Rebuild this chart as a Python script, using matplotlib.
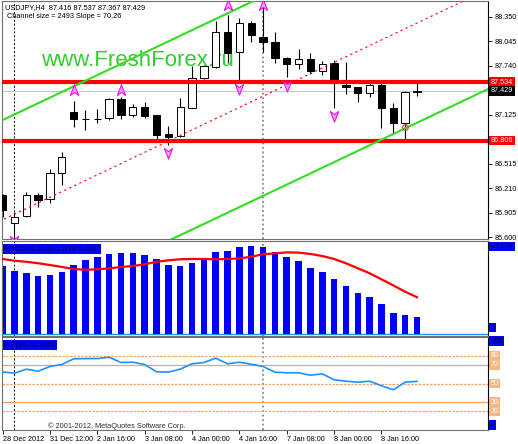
import matplotlib
matplotlib.use('Agg')
import numpy as np
from matplotlib import pyplot as plt
from matplotlib import transforms
from matplotlib.path import Path

plt.rcParams['font.family'] = ['Liberation Sans', 'DejaVu Sans']

# USDJPY H4 candles
opens = [86.125, 85.775, 85.86, 86.125, 86.075, 86.40, 87.16, 87.075, 87.075, 87.09,
         87.325, 87.125, 87.225, 87.125, 86.89, 86.86, 87.21, 87.59, 87.72, 88.16,
         87.91, 88.275, 88.10, 88.04, 87.84, 87.76, 87.825, 87.675, 87.775, 87.50,
         87.475, 87.40, 87.50, 87.21, 87.025, 87.416]
highs = [86.14, 85.91, 86.16, 86.15, 86.45, 86.66, 87.30, 87.19, 87.20, 87.34,
         87.35, 87.26, 87.29, 87.13, 86.99, 87.34, 87.74, 87.75, 88.30, 88.375,
         88.34, 88.30, 88.475, 88.16, 87.85, 87.95, 87.90, 87.80, 87.81, 87.79,
         87.48, 87.55, 87.525, 87.275, 87.425, 87.537]
lows = [85.85, 85.58, 85.85, 85.975, 86.025, 86.25, 86.975, 86.94, 87.025, 87.06,
        87.075, 87.10, 87.09, 86.81, 86.75, 86.85, 87.21, 87.58, 87.71, 87.775,
        87.56, 88.04, 87.91, 87.775, 87.60, 87.70, 87.64, 87.63, 87.21, 87.39,
        87.29, 87.35, 86.96, 86.90, 86.825, 87.367]
closes = [85.94, 85.85, 86.125, 86.06, 86.40, 86.60, 87.075, 87.08, 87.08, 87.32,
          87.125, 87.225, 87.11, 86.875, 86.85, 87.225, 87.59, 87.74, 88.16, 87.90,
          88.275, 88.125, 88.04, 87.84, 87.76, 87.825, 87.675, 87.76, 87.54, 87.475,
          87.40, 87.50, 87.21, 87.025, 87.41, 87.429]

macd_hist = [0.461, 0.427, 0.414, 0.393, 0.400, 0.421, 0.468, 0.502, 0.522, 0.543,
             0.550, 0.550, 0.536, 0.509, 0.468, 0.461, 0.482, 0.509, 0.556, 0.563,
             0.590, 0.597, 0.590, 0.556, 0.522, 0.495, 0.448, 0.421, 0.373, 0.326,
             0.278, 0.251, 0.204, 0.142, 0.129, 0.1178]
macd_signal = [0.509, 0.497, 0.490, 0.480, 0.468, 0.455, 0.441, 0.436, 0.439, 0.445,
               0.455, 0.461, 0.473, 0.490, 0.500, 0.507, 0.509, 0.509, 0.507, 0.509,
               0.513, 0.524, 0.541, 0.547, 0.554, 0.552, 0.543, 0.529, 0.509, 0.480,
               0.446, 0.412, 0.371, 0.330, 0.287, 0.2497]
rsi = [62.4, 61.1, 65.4, 63.2, 68.3, 70.4, 76.5, 76.8, 76.8, 78.2,
       72.6, 72.9, 70.4, 62.6, 62.2, 65.4, 71.2, 72.6, 77.2, 71.2,
       72.9, 70.7, 68.3, 62.2, 61.5, 61.5, 58.9, 60.4, 54.0, 52.5,
       51.4, 52.5, 47.6, 43.3, 51.4, 52.3]

time_ticks = [0, 4, 8, 12, 16, 20, 24, 28, 32]
time_labels = ['28 Dec 2012', '31 Dec 12:00', '2 Jan 16:00', '3 Jan 08:00', '4 Jan 00:00',
               '4 Jan 16:00', '7 Jan 08:00', '8 Jan 00:00', '8 Jan 16:00']
price_ticks = [88.350, 88.045, 87.740, 87.125, 86.515, 86.210, 85.905, 85.600]
levels = [87.534, 86.806]
last_price = 87.429
channel_mid0 = 85.815   # middle line at bar 0
channel_slope = 0.07026
channel_size = 2.493
up_bars = [6, 10, 19, 22]
up_prices = [87.44, 87.44, 88.50, 88.50]
dn_bars = [1, 14, 20, 24, 28]
dn_prices = [85.55, 86.65, 87.45, 87.49, 87.11]
rsi_levels = [80, 70, 50, 30, 20]
rsi_styles = ['dashed', 'solid', 'dashed', 'solid', 'dashed']

W, H = 518, 444
fig = plt.figure(figsize=(W / 100, H / 100), dpi=100)


def box(l, t, r, b):
    return [l / W, 1 - b / H, (r - l) / W, (b - t) / H]


ax1 = fig.add_axes(box(2, 1, 488, 239))
ax2 = fig.add_axes(box(2, 241, 488, 336))
ax3 = fig.add_axes(box(2, 337, 488, 430))
xlo, xhi = -0.05, 41.0
for ax in (ax1, ax2, ax3):
    ax.set_xlim(xlo, xhi)
    for s in ax.spines.values():
        s.set_color('#707070')
        s.set_linewidth(0.8)
    ax.spines['right'].set_color('black')
    ax.yaxis.tick_right()
    ax.tick_params(axis='y', length=3, width=0.6, pad=1.5, labelsize=5.2, colors='black')
    ax.axvline(1, color='black', lw=0.7, ls=(0, (2, 2)), zorder=1)
    ax.axvline(22, color='#888888', lw=1.3, ls=(0, (1, 1.5)), zorder=1)

idx = np.arange(len(opens))
o = np.array(opens); c = np.array(closes)

# main price panel
ax1.set_ylim(85.575, 88.55)
ax1.set_yticks(price_ticks)
ax1.set_yticklabels(['%.3f' % p for p in price_ticks])
ax1.set_xticks([])
ax1.vlines(idx, lows, highs, color='black', lw=0.8, zorder=3)
bottoms = np.minimum(o, c)
heights = np.maximum(np.abs(c - o), 0.003)
faces = ['white' if cc >= oo else 'black' for oo, cc in zip(o, c)]
ax1.bar(idx, heights, 0.62, bottoms, color=faces, edgecolor='black', lw=0.7, zorder=4)

ax1.axhline(last_price, color='#C8C8C8', lw=0.8, zorder=1)
for lv in levels:
    ax1.axhline(lv, color='#FF0000', lw=3, zorder=5)

xs = np.array([xlo - 1, xhi + 1])
mid = channel_mid0 + channel_slope * xs
ax1.plot(xs, mid, color='#FF0000', lw=0.8, ls=(0, (2, 3)), zorder=5)
ax1.plot(xs, mid + channel_size / 2, color='#33DD22', lw=1.5, zorder=5)
ax1.plot(xs, mid - channel_size / 2, color='#33DD22', lw=1.5, zorder=5)

up = Path([(0, 1), (0.75, -0.9), (0, -0.35), (-0.75, -0.9), (0, 1)],
          [Path.MOVETO, Path.LINETO, Path.LINETO, Path.LINETO, Path.CLOSEPOLY])
dn = Path([(0, -1), (0.75, 0.9), (0, 0.35), (-0.75, 0.9), (0, -1)],
          [Path.MOVETO, Path.LINETO, Path.LINETO, Path.LINETO, Path.CLOSEPOLY])
ax1.plot(up_bars, up_prices, ls='none', marker=up, ms=8, mfc='#FF99FF', mec='#EE00EE', mew=0.7, zorder=6)
ax1.plot(dn_bars, dn_prices, ls='none', marker=dn, ms=8, mfc='#FF99FF', mec='#EE00EE', mew=0.7, zorder=6)
ax1.plot([34], [86.975], ls='none', marker='o', ms=4, mfc='none', mec='#FF3030', mew=0.8, zorder=6)

ax1.text(0.279, 0.752, 'www.FreshForex.ru', transform=ax1.transAxes, ha='center', va='center',
         fontsize=16, color='#33CC33', zorder=2)
ax1.text(3 / 486, 1 - 7 / 238, 'USDJPY,H4  87.416 87.537 87.367 87.429', transform=ax1.transAxes,
         ha='left', va='center', fontsize=5.3, color='black', zorder=7)
ax1.text(5 / 486, 1 - 15 / 238, 'Channel size = 2493 Slope = 70.26', transform=ax1.transAxes,
         ha='left', va='center', fontsize=5.3, color='black', zorder=7)

tr1 = transforms.blended_transform_factory(ax1.transAxes, ax1.transData)
for lv, fc in [(levels[0], '#FF0000'), (last_price, 'black'), (levels[1], '#FF0000')]:
    ax1.text(1.006, lv, '%.3f' % lv, transform=tr1, ha='left', va='center', fontsize=5.2,
             color='white', bbox=dict(boxstyle='square,pad=0.2', fc=fc, ec='none'), clip_on=False)

# MACD panel
ax2.set_ylim(-0.0136, 0.631)
ax2.set_yticks([])
ax2.set_xticks([])
ax2.axhline(0, color='#1E90FF', lw=1.0, zorder=1)
ax2.bar(idx, macd_hist, 0.55, color='#0000FF', zorder=2)
ax2.plot(np.concatenate([[-0.3], idx]), [macd_signal[0]] + macd_signal, color='#FF0000', lw=1.6, zorder=3)
ax2.text(2 / 486, 1 - 8 / 95, 'MACD(12,26,9) 0.1178 0.2497', transform=ax2.transAxes, ha='left',
         va='center', fontsize=5, color='#000050',
         bbox=dict(boxstyle='square,pad=0.2', fc='#0000FF', ec='none'))
tr2 = transforms.blended_transform_factory(ax2.transAxes, ax2.transData)
ax2.text(1.006, 0.6174, '0.6174', transform=tr2, ha='left', va='top', fontsize=5.2, color='#000050',
         bbox=dict(boxstyle='square,pad=0.2', fc='#0000FF', ec='none'), clip_on=False)
ax2.text(1.006, 0.02, '0', transform=tr2, ha='left', va='bottom', fontsize=5.2, color='#000050',
         bbox=dict(boxstyle='square,pad=0.2', fc='#0000FF', ec='none'), clip_on=False)

# RSI panel
ax3.set_ylim(0, 100)
ax3.set_yticks([])
for lv, st in zip(rsi_levels, rsi_styles):
    ax3.axhline(lv, color='#F4A460', lw=0.9, ls=st if st == 'solid' else (0, (2, 1)), zorder=1)
ax3.plot(np.concatenate([[-0.3], idx]), [rsi[0]] + rsi, color='#1E90FF', lw=1.2, zorder=3)
ax3.text(2 / 486, 1 - 8 / 93, 'RSI(14) 52.3001', transform=ax3.transAxes, ha='left', va='center',
         fontsize=5, color='#000050', bbox=dict(boxstyle='square,pad=0.2', fc='#0000FF', ec='none'))
tr3 = transforms.blended_transform_factory(ax3.transAxes, ax3.transData)
for lv in rsi_levels:
    ax3.text(1.006, lv, str(lv), transform=tr3, ha='left', va='center', fontsize=5.2, color='white',
             bbox=dict(boxstyle='square,pad=0.2', fc='#F4B880', ec='none'), clip_on=False)
ax3.text(1.006, 99, '100', transform=tr3, ha='left', va='top', fontsize=5.2, color='#000050',
         bbox=dict(boxstyle='square,pad=0.2', fc='#0000FF', ec='none'), clip_on=False)
ax3.text(1.006, 2, '0', transform=tr3, ha='left', va='bottom', fontsize=5.2, color='#000050',
         bbox=dict(boxstyle='square,pad=0.2', fc='#0000FF', ec='none'), clip_on=False)
ax3.text(46 / 486, 4 / 93, '\u00a9 2001-2012, MetaQuotes Software Corp.', transform=ax3.transAxes,
         ha='left', va='center', fontsize=5.3, color='#303030')
ax3.set_xticks(time_ticks)
ax3.set_xticklabels(time_labels, ha='left')
ax3.tick_params(axis='x', length=3, width=0.6, pad=1, labelsize=5.2)

fig.savefig('out.png', dpi=100)
